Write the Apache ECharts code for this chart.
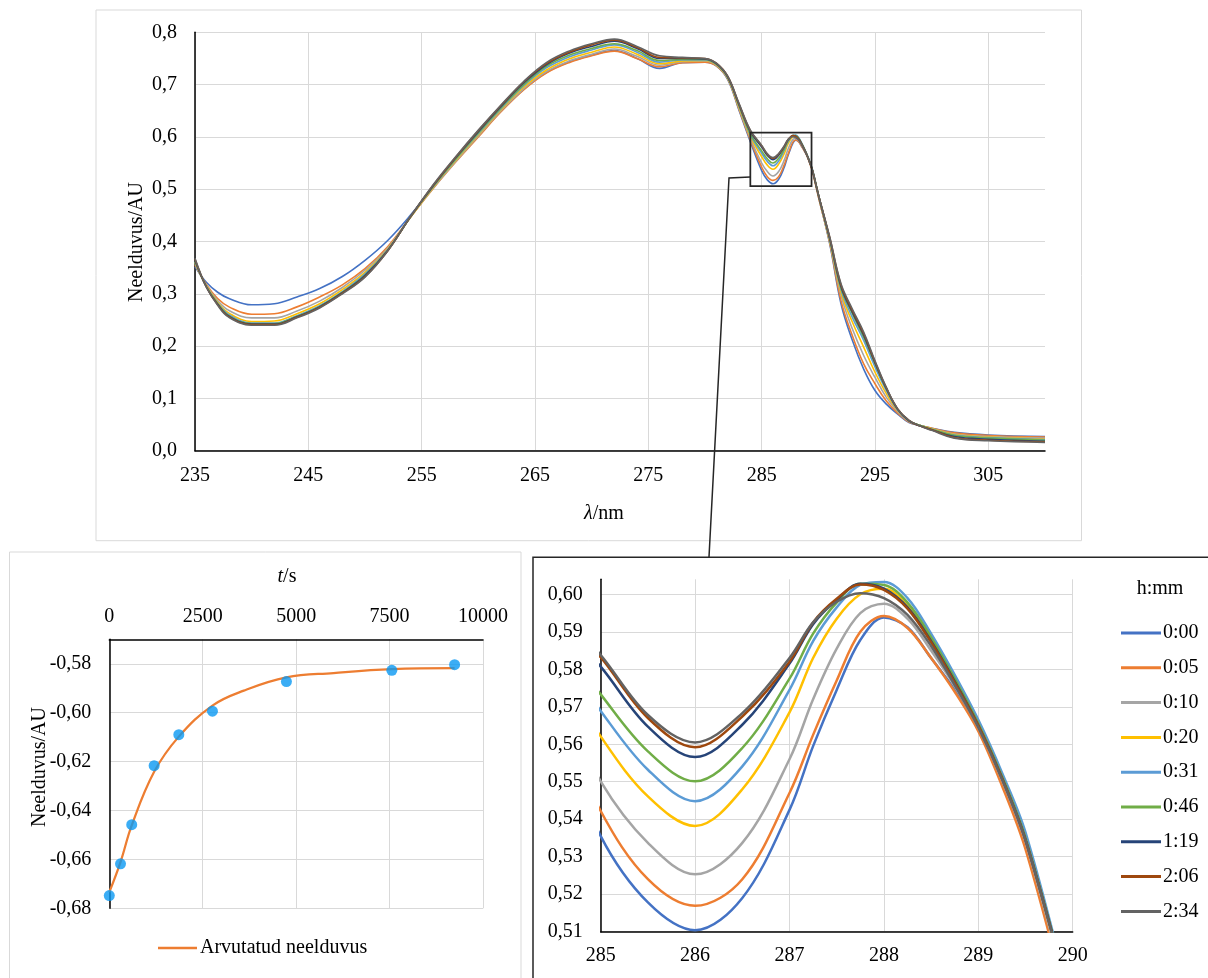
<!DOCTYPE html>
<html>
<head>
<meta charset="utf-8">
<title>Neelduvus</title>
<script src="https://cdn.jsdelivr.net/npm/echarts@6/dist/echarts.min.js"></script>
<style>
  html, body { margin: 0; padding: 0; background: #fff; }
  #chart { width: 1208px; height: 978px; }
</style>
</head>
<body>
<div id="chart"></div>
<script>
// wavelength, nm
const wl = [235, 236, 237, 238,
  240, 242, 244, 246, 248, 250, 252, 254, 256, 258, 260, 262, 264, 266, 268, 270, 272,
  274, 276, 278, 280, 281, 282, 283, 284,
  285, 285.5, 286, 286.5,
  287, 287.25, 287.5, 287.75, 288, 288.25, 288.5, 288.75, 289, 289.25, 289.5, 290,
  291, 292, 293, 294, 295, 296, 297, 298, 299, 300,
  302, 305, 310]

// absorbance spectra, one array per measuring time (h:mm)
const a0000 = [0.352, 0.322, 0.303, 0.291,
  0.279, 0.281, 0.294, 0.310, 0.333, 0.364, 0.402, 0.450, 0.504, 0.556, 0.603, 0.649, 0.691, 0.723, 0.743, 0.756, 0.765,
  0.750, 0.731, 0.742, 0.743, 0.736, 0.710, 0.651, 0.591,
  0.5355, 0.5178, 0.5104, 0.5190,
  0.5425, 0.5595, 0.5745, 0.5878, 0.5938, 0.5912, 0.5830, 0.5745, 0.5639, 0.5500, 0.5337, 0.487,
  0.396, 0.281, 0.211, 0.156, 0.115, 0.089, 0.070, 0.054, 0.048, 0.043,
  0.035, 0.030, 0.027]
const a0005 = [0.356, 0.318, 0.291, 0.275,
  0.261, 0.262, 0.275, 0.294, 0.317, 0.348, 0.390, 0.446, 0.501, 0.552, 0.600, 0.648, 0.690, 0.722, 0.742, 0.755, 0.764,
  0.750, 0.734, 0.742, 0.743, 0.736, 0.711, 0.653, 0.594,
  0.5422, 0.5240, 0.5169, 0.5240,
  0.5470, 0.5625, 0.5770, 0.5900, 0.5942, 0.5910, 0.5830, 0.5740, 0.5635, 0.5490, 0.5320, 0.486,
  0.398, 0.287, 0.220, 0.166, 0.128, 0.095, 0.072, 0.055, 0.048, 0.043,
  0.034, 0.029, 0.026]
const a0010 = [0.358, 0.316, 0.287, 0.268,
  0.254, 0.254, 0.267, 0.286, 0.312, 0.345, 0.387, 0.446, 0.502, 0.553, 0.602, 0.650, 0.692, 0.725, 0.745, 0.758, 0.768,
  0.754, 0.737, 0.744, 0.745, 0.737, 0.712, 0.655, 0.597,
  0.5501, 0.5337, 0.5253, 0.5337,
  0.5560, 0.5720, 0.5855, 0.5950, 0.5975, 0.5935, 0.5850, 0.5755, 0.5645, 0.5505, 0.5340, 0.488,
  0.400, 0.297, 0.233, 0.182, 0.140, 0.102, 0.075, 0.056, 0.048, 0.042,
  0.032, 0.027, 0.024]
const a0020 = [0.360, 0.315, 0.284, 0.263,
  0.247, 0.248, 0.262, 0.281, 0.308, 0.341, 0.385, 0.446, 0.503, 0.555, 0.604, 0.652, 0.695, 0.728, 0.749, 0.762, 0.772,
  0.758, 0.740, 0.745, 0.746, 0.738, 0.713, 0.657, 0.601,
  0.5621, 0.5461, 0.5382, 0.5480,
  0.5685, 0.5830, 0.5935, 0.6000, 0.6015, 0.5970, 0.5880, 0.5775, 0.5655, 0.5515, 0.5350, 0.489,
  0.402, 0.303, 0.246, 0.198, 0.150, 0.109, 0.077, 0.057, 0.048, 0.042,
  0.031, 0.026, 0.022]
const a0031 = [0.361, 0.314, 0.282, 0.260,
  0.244, 0.244, 0.258, 0.277, 0.304, 0.338, 0.384, 0.447, 0.504, 0.557, 0.606, 0.654, 0.698, 0.732, 0.753, 0.766, 0.776,
  0.762, 0.743, 0.747, 0.747, 0.739, 0.714, 0.659, 0.604,
  0.5689, 0.5532, 0.5448, 0.5541,
  0.5745, 0.5875, 0.5965, 0.6025, 0.6033, 0.5990, 0.5895, 0.5785, 0.5665, 0.5525, 0.5365, 0.490,
  0.404, 0.308, 0.255, 0.211, 0.160, 0.115, 0.078, 0.057, 0.048, 0.041,
  0.030, 0.025, 0.021]
const a0046 = [0.362, 0.314, 0.281, 0.258,
  0.243, 0.243, 0.257, 0.276, 0.303, 0.336, 0.383, 0.447, 0.505, 0.558, 0.608, 0.656, 0.700, 0.735, 0.756, 0.769, 0.778,
  0.765, 0.746, 0.748, 0.748, 0.739, 0.714, 0.660, 0.606,
  0.5733, 0.5581, 0.5501, 0.5590,
  0.5775, 0.5895, 0.5978, 0.6028, 0.6025, 0.5978, 0.5885, 0.5775, 0.5655, 0.5515, 0.5350, 0.490,
  0.405, 0.311, 0.262, 0.217, 0.166, 0.118, 0.079, 0.057, 0.048, 0.041,
  0.029, 0.024, 0.020]
const a0119 = [0.364, 0.313, 0.280, 0.257,
  0.242, 0.242, 0.256, 0.275, 0.302, 0.335, 0.383, 0.447, 0.506, 0.560, 0.610, 0.658, 0.703, 0.738, 0.760, 0.773, 0.783,
  0.769, 0.750, 0.750, 0.749, 0.740, 0.715, 0.662, 0.610,
  0.5807, 0.5647, 0.5566, 0.5652,
  0.5815, 0.5920, 0.5985, 0.6028, 0.6015, 0.5965, 0.5875, 0.5768, 0.5650, 0.5510, 0.5345, 0.490,
  0.406, 0.314, 0.265, 0.221, 0.168, 0.119, 0.079, 0.057, 0.047, 0.040,
  0.027, 0.022, 0.018]
const a0206 = [0.366, 0.313, 0.279, 0.256,
  0.241, 0.241, 0.255, 0.274, 0.301, 0.333, 0.382, 0.447, 0.507, 0.561, 0.612, 0.660, 0.705, 0.740, 0.762, 0.776, 0.785,
  0.771, 0.752, 0.751, 0.750, 0.741, 0.716, 0.663, 0.612,
  0.5832, 0.5670, 0.5592, 0.5674,
  0.5820, 0.5925, 0.5988, 0.6026, 0.6012, 0.5962, 0.5872, 0.5765, 0.5650, 0.5510, 0.5345, 0.490,
  0.408, 0.317, 0.268, 0.224, 0.170, 0.120, 0.080, 0.058, 0.047, 0.040,
  0.025, 0.020, 0.017]
const a0234 = [0.368, 0.313, 0.278, 0.255,
  0.240, 0.240, 0.254, 0.273, 0.300, 0.332, 0.382, 0.447, 0.508, 0.562, 0.613, 0.661, 0.706, 0.742, 0.764, 0.778, 0.787,
  0.773, 0.755, 0.752, 0.750, 0.741, 0.716, 0.664, 0.613,
  0.5838, 0.5678, 0.5605, 0.5683,
  0.5830, 0.5925, 0.5980, 0.6003, 0.5990, 0.5945, 0.5862, 0.5758, 0.5645, 0.5508, 0.5345, 0.490,
  0.409, 0.319, 0.271, 0.227, 0.172, 0.121, 0.080, 0.058, 0.047, 0.039,
  0.024, 0.019, 0.016]

const timeLabels = ['0:00', '0:05', '0:10', '0:20', '0:31', '0:46', '1:19', '2:06', '2:34']
const spectra = [a0000, a0005, a0010, a0020, a0031, a0046, a0119, a0206, a0234]
const lineColors = ['#4472C4', '#ED7D31', '#A5A5A5', '#FFC000', '#5B9BD5', '#70AD47', '#264478', '#9E480E', '#636363']

// kinetics at 286 nm
const tSec = [0, 300, 600, 1200, 1860, 2760, 4740, 7560, 9240]
const measured = [-0.6748, -0.6618, -0.6458, -0.6217, -0.6090, -0.5994, -0.5873, -0.5827, -0.5804]
const tFit = [0, 300, 600, 1200, 1860, 2760, 3600, 4740, 6000, 7560, 9240]
const fitted = [-0.6734, -0.6611, -0.6461, -0.6242, -0.6098, -0.5971, -0.5910, -0.5856, -0.5838, -0.5822, -0.5818]

const FONT = 'Liberation Serif'
const comma = d => v => v.toFixed(d).replace('.', ',')

const chart = echarts.init(document.getElementById('chart'))

function axisBase(extra) {
  return Object.assign({
    type: 'value',
    axisTick: { show: false },
    axisLine: { show: true, onZero: false, lineStyle: { color: '#000', width: 1.5 } },
    splitLine: { show: true, lineStyle: { color: '#d9d9d9', width: 1 } },
    axisLabel: { color: '#000', fontFamily: FONT, fontSize: 20 }
  }, extra)
}

const series = []
spectra.forEach((arr, i) => {
  series.push({
    name: timeLabels[i], type: 'line', xAxisIndex: 0, yAxisIndex: 0,
    data: wl.map((x, j) => [x, arr[j]]),
    symbol: 'none', smooth: 0.4, color: lineColors[i],
    lineStyle: { width: 1.6, color: lineColors[i] }, animation: false
  })
})
spectra.forEach((arr, i) => {
  series.push({
    name: timeLabels[i], type: 'line', xAxisIndex: 2, yAxisIndex: 2,
    data: wl.map((x, j) => [x, arr[j]]),
    symbol: 'none', smooth: 0.35, clip: true, color: lineColors[i],
    lineStyle: { width: 2.5, color: lineColors[i] }, animation: false
  })
})
series.push({
  name: 'Arvutatud neelduvus', type: 'line', xAxisIndex: 1, yAxisIndex: 1,
  data: tFit.map((t, j) => [t, fitted[j]]),
  symbol: 'none', smooth: 0.4, color: '#ED7D31',
  lineStyle: { width: 2.25, color: '#ED7D31' }, animation: false
})
series.push({
  name: 'Mõõdetud neelduvus', type: 'scatter', xAxisIndex: 1, yAxisIndex: 1,
  data: tSec.map((t, j) => [t, measured[j]]),
  symbolSize: 11, itemStyle: { color: '#0A99F2' }, z: 5, animation: false
})

chart.setOption({
  animation: false,
  backgroundColor: '#fff',
  grid: [
    { left: 195, top: 32.3, width: 850, height: 418.4, outerBoundsMode: 'none' },
    { left: 109.3, top: 639.3, width: 373.7, height: 269, outerBoundsMode: 'none' },
    { left: 600.7, top: 579.3, width: 472, height: 352.4, outerBoundsMode: 'none' }
  ],
  xAxis: [
    axisBase({ gridIndex: 0, min: 235, max: 310, interval: 10,
      axisLabel: { color: '#000', fontFamily: FONT, fontSize: 20, margin: 15, showMaxLabel: false },
      splitLine: { show: true, showMaxLine: false, lineStyle: { color: '#d9d9d9' } } }),
    axisBase({ gridIndex: 1, position: 'top', min: 0, max: 10000, interval: 2500,
      axisLabel: { color: '#000', fontFamily: FONT, fontSize: 20, margin: 13, formatter: v => String(v) } }),
    axisBase({ gridIndex: 2, min: 285, max: 290, interval: 1,
      axisLabel: { color: '#000', fontFamily: FONT, fontSize: 20, margin: 14 } })
  ],
  yAxis: [
    axisBase({ gridIndex: 0, min: 0, max: 0.8, interval: 0.1,
      axisLabel: { color: '#000', fontFamily: FONT, fontSize: 20, margin: 18, formatter: comma(1) } }),
    axisBase({ gridIndex: 1, min: -0.68, max: -0.57, interval: 0.02,
      axisLabel: { color: '#000', fontFamily: FONT, fontSize: 20, margin: 18, showMaxLabel: false, formatter: comma(2) },
      splitLine: { show: true, showMaxLine: false, lineStyle: { color: '#d9d9d9' } } }),
    axisBase({ gridIndex: 2, min: 0.51, max: 0.604, interval: 0.01,
      axisLabel: { color: '#000', fontFamily: FONT, fontSize: 20, margin: 18, showMaxLabel: false, formatter: comma(2) },
      splitLine: { show: true, showMaxLine: false, lineStyle: { color: '#d9d9d9' } } })
  ],
  legend: [
    {
      data: timeLabels, orient: 'vertical', left: 1116, top: 618,
      icon: 'rect', itemWidth: 40, itemHeight: 3, itemGap: 14.8, selectedMode: false,
      textStyle: { color: '#000', fontFamily: FONT, fontSize: 20, padding: [0, 0, 0, -3] }
    },
    {
      data: ['Arvutatud neelduvus'], left: 153, top: 933,
      icon: 'rect', itemWidth: 39, itemHeight: 2.5, selectedMode: false,
      textStyle: { color: '#000', fontFamily: FONT, fontSize: 20, padding: [0, 0, 0, -2] }
    }
  ],
  series: series
})

// frames, zoom box, connector and titles
const p1 = chart.convertToPixel({ xAxisIndex: 0, yAxisIndex: 0 }, [284.0, 0.608])
const p2 = chart.convertToPixel({ xAxisIndex: 0, yAxisIndex: 0 }, [289.4, 0.506])
const titleFont = '20px "Liberation Serif"'
const rich = {
  i: { fontStyle: 'italic', fontFamily: FONT, fontSize: 20, fill: '#000' },
  n: { fontFamily: FONT, fontSize: 20, fill: '#000' }
}

chart.setOption({
  graphic: [
    { type: 'rect', shape: { x: 96, y: 10, width: 985.5, height: 530.7 }, style: { fill: 'none', stroke: '#d9d9d9', lineWidth: 1 }, z: 0 },
    { type: 'rect', shape: { x: 9.5, y: 552, width: 511.5, height: 450 }, style: { fill: 'none', stroke: '#d9d9d9', lineWidth: 1 }, z: 0 },
    { type: 'rect', shape: { x: 533, y: 557.3, width: 700, height: 450 }, style: { fill: 'none', stroke: '#262626', lineWidth: 1.5 }, z: 0 },
    { type: 'rect', shape: { x: p1[0], y: p1[1], width: p2[0] - p1[0], height: p2[1] - p1[1] }, style: { fill: 'none', stroke: '#262626', lineWidth: 1.75 }, z: 100 },
    { type: 'polyline', shape: { points: [[p1[0], 177], [729, 178], [709, 557]] }, style: { fill: 'none', stroke: '#262626', lineWidth: 1.5 }, z: 100 },
    { type: 'text', x: 137, y: 242, rotation: Math.PI / 2,
      style: { text: 'Neelduvus/AU', font: titleFont, fill: '#000', textAlign: 'center', textVerticalAlign: 'middle' } },
    { type: 'text', x: 604, y: 514,
      style: { text: '{i|λ}{n|/nm}', rich: rich, font: titleFont, fill: '#000', textAlign: 'center', textVerticalAlign: 'middle' } },
    { type: 'text', x: 40, y: 767, rotation: Math.PI / 2,
      style: { text: 'Neelduvus/AU', font: titleFont, fill: '#000', textAlign: 'center', textVerticalAlign: 'middle' } },
    { type: 'text', x: 287, y: 577,
      style: { text: '{i|t}{n|/s}', rich: rich, font: titleFont, fill: '#000', textAlign: 'center', textVerticalAlign: 'middle' } },
    { type: 'text', x: 1160, y: 589,
      style: { text: 'h:mm', font: titleFont, fill: '#000', textAlign: 'center', textVerticalAlign: 'middle' } }
  ]
})
</script>
</body>
</html>
